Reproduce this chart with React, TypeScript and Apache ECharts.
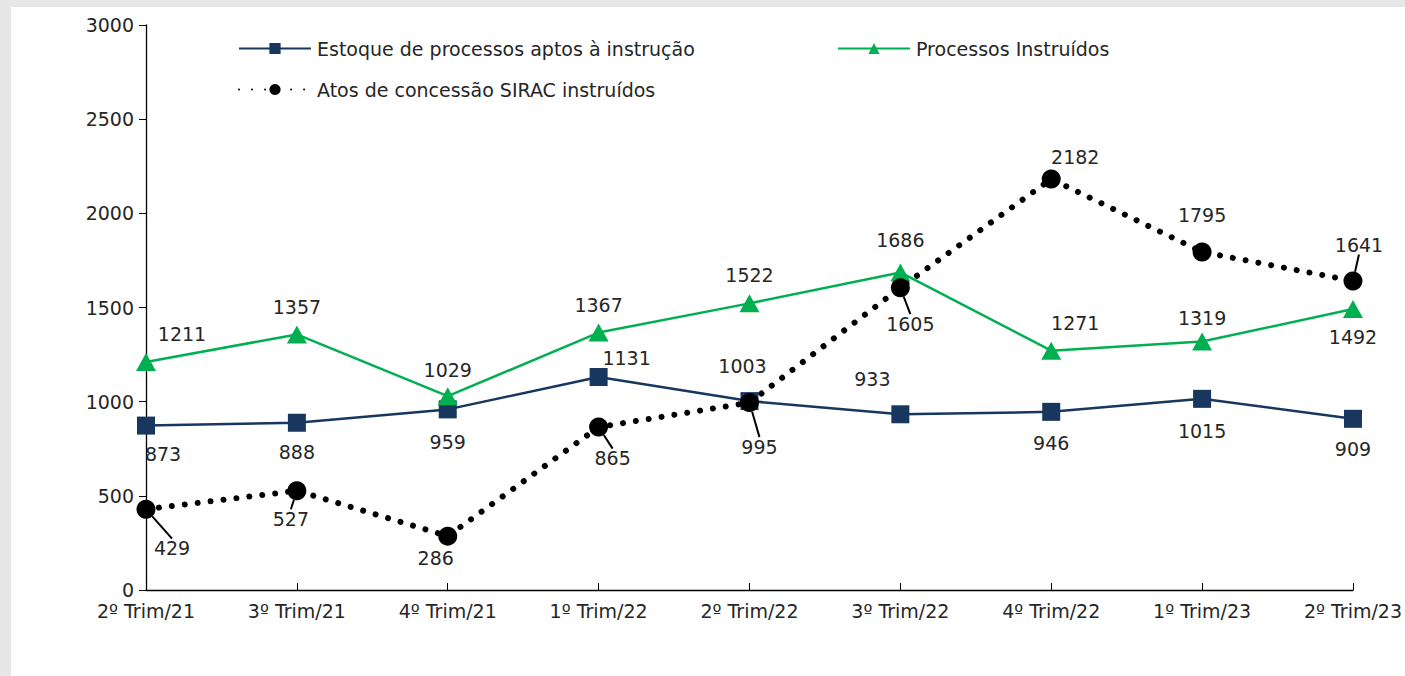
import React, { useEffect, useRef } from "react";
import * as echarts from "echarts";

const categories = ["2º Trim/21", "3º Trim/21", "4º Trim/21", "1º Trim/22", "2º Trim/22", "3º Trim/22", "4º Trim/22", "1º Trim/23", "2º Trim/23"];
const estoque = [873, 888, 959, 1131, 1003, 933, 946, 1015, 909];
const instruidos = [1211, 1357, 1029, 1367, 1522, 1686, 1271, 1319, 1492];
const sirac = [429, 527, 286, 865, 995, 1605, 2182, 1795, 1641];

const nameEstoque = "Estoque de processos aptos à instrução";
const nameInstruidos = "Processos Instruídos";
const nameSirac = "Atos de concessão SIRAC instruídos";

// label offsets (styling)
const offEstoque = [[17, 28], [0, 29], [0, 33], [28, -19], [-7, -35], [-28, -35], [0, 31], [0, 32], [0, 30]];
const offInstruidos = [[36, -28], [0, -27], [0, -26], [0, -28], [0, -28], [0, -32], [24, -28], [0, -24], [0, 28]];
const offSirac = [[26, 39], [-6, 28], [-12, 22], [14, 31], [10, 44], [10, 36], [24, -22], [0, -37], [6, -36]];
const leaderSirac = [true, true, false, true, true, true, false, false, true];

const FONT = "DejaVu Sans, Verdana, sans-serif";
const FS = 19;
const TXT = "#262626";

export default function App() {
  const ref = useRef<HTMLDivElement>(null);
  useEffect(() => {
    if (!ref.current) return;
    const chart = echarts.init(ref.current, null, { renderer: "svg" });
    const labelBase = { show: true, position: "inside", color: TXT, fontSize: FS, fontFamily: FONT };
    const mkLayout = (offs: number[][]) => (p: any) => ({ dx: offs[p.dataIndex][0], dy: offs[p.dataIndex][1] });
    const legendBase = {
      itemWidth: 72,
      itemHeight: 14,
      textStyle: { fontSize: FS, color: TXT, fontFamily: FONT, padding: [0, 0, 0, 1] },
      selectedMode: false,
    };
    chart.setOption({
      animation: false,
      backgroundColor: "#e6e7e6",
      textStyle: { fontFamily: FONT },
      graphic: [
        { type: "rect", left: 11, top: 7, shape: { width: 1394, height: 669 }, style: { fill: "#ffffff" }, z: -10, silent: true },
      ],
      legend: [
        { ...legendBase, left: 233, top: 34, data: [nameEstoque] },
        { ...legendBase, left: 832, top: 34, data: [nameInstruidos] },
        { ...legendBase, left: 233, top: 75, data: [nameSirac] },
      ],
      grid: { left: 146, right: 52, top: 25, bottom: 86, containLabel: false },
      xAxis: {
        type: "category",
        data: categories,
        boundaryGap: false,
        axisLine: { lineStyle: { color: "#000", width: 1.3 } },
        axisTick: { show: true, inside: true, length: 7, lineStyle: { color: "#000" } },
        axisLabel: { color: TXT, fontSize: FS, fontFamily: FONT, margin: 11 },
      },
      yAxis: {
        type: "value",
        min: 0,
        max: 3000,
        interval: 500,
        axisLine: { show: true, lineStyle: { color: "#000", width: 1.3 } },
        axisTick: { show: true, length: 7, lineStyle: { color: "#000" } },
        axisLabel: { color: TXT, fontSize: FS, fontFamily: FONT, margin: 12, formatter: (v: number) => String(v) },
        splitLine: { show: false },
      },
      series: [
        {
          name: nameEstoque,
          type: "line",
          data: estoque,
          symbol: "rect",
          symbolSize: 18,
          color: "#17375e",
          itemStyle: { color: "#17375e" },
          lineStyle: { color: "#17375e", width: 2.5 },
          label: labelBase,
          labelLayout: mkLayout(offEstoque),
          z: 3,
        },
        {
          name: nameInstruidos,
          type: "line",
          data: instruidos,
          symbol: "triangle",
          symbolSize: [20, 18],
          color: "#00b050",
          itemStyle: { color: "#00b050" },
          lineStyle: { color: "#00b050", width: 2.5 },
          label: labelBase,
          labelLayout: mkLayout(offInstruidos),
          z: 4,
        },
        {
          name: nameSirac,
          type: "line",
          data: sirac.map((v, i) => ({ value: v, labelLine: { show: leaderSirac[i] } })),
          symbol: "circle",
          symbolSize: 19,
          color: "#000000",
          itemStyle: { color: "#000000" },
          lineStyle: { color: "#000000", width: 6, type: [0.01, 13], cap: "round" },
          label: labelBase,
          labelLine: { show: true, lineStyle: { color: "#000", width: 2 } },
          labelLayout: mkLayout(offSirac),
          z: 5,
        },
      ],
    });
    return () => chart.dispose();
  }, []);
  return <div ref={ref} style={{ position: "fixed", left: 0, top: 0, width: 1405, height: 676 }} />;
}
